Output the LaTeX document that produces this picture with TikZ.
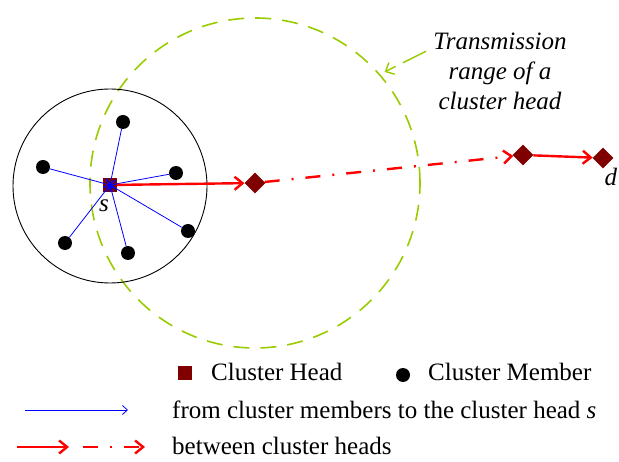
\documentclass[tikz,border=0pt]{standalone}
\usepackage{fontspec}
\setmainfont{Liberation Serif}
\usetikzlibrary{arrows.meta,shapes.geometric,positioning}
\definecolor{headred}{RGB}{128,0,0}
\definecolor{rangegreen}{RGB}{153,204,0}
\begin{document}
\begin{tikzpicture}[x=1pt, y=-1pt, font=\fontsize{25}{30}\selectfont]
        \tikzset{
            headsq/.style={
                fill=headred,
                minimum size=14pt,
                inner sep=0pt
            },
            headdia/.style={
                diamond,
                fill=headred,
                minimum size=21pt,
                inner sep=0pt
            },
            member/.style={
                circle,
                fill=black,
                minimum size=14pt,
                inner sep=0pt
            },
            clusterarea/.style={
                circle,
                draw=black,
                line width=0.9pt,
                minimum size=194pt,
                inner sep=0pt
            },
            rangearea/.style={
                circle,
                draw=rangegreen,
                line width=1.6pt,
                dash pattern=on 16pt off 11pt,
                minimum size=330pt,
                inner sep=0pt
            },
            lbl/.style={inner sep=0pt},
            memberarrow/.style={-{Straight Barb[length=5pt,width=9pt]}, line width=0.8pt, draw=blue},
            headarrow/.style={-{Straight Barb[length=8pt,width=13pt]}, line width=2.4pt, draw=red},
            headdash/.style={headarrow, dash pattern=on 15pt off 12pt on 2pt off 12pt},
            rangearrow/.style={-{Straight Barb[length=7pt,width=13pt]}, line width=1.4pt,
                draw=rangegreen, dash pattern=on 26pt off 8pt}
        }

        \useasboundingbox (0,0) rectangle (619,462);

        \node[headdia] (ch1) at (255,183) {};
        \node[headdia] (ch2) at (523,155) {};
        \node[headdia] (dst) at (603,158) {};
        \node[rangearea] (range) at (ch1) {};
        \node[clusterarea] (cluster) at (110,186) {};

        \node[member] (m1) at (123,122) {};
        \node[member] (m2) at (43,167) {};
        \node[member] (m3) at (176,173) {};
        \node[member] (m4) at (65,243) {};
        \node[member] (m5) at (128,253) {};
        \node[member] (m6) at (188,231) {};
        \node[headsq] (src) at (110,185) {};
        \node[lbl] (slbl) at (104,206) {\textit{s}};
        \node[lbl] (dlbl) at (611,177) {\textit{d}};

        \foreach \m in {m1,m2,m3,m4,m5,m6}
            \draw[memberarrow] (\m) -- (src.center);
        \draw[headarrow] (src) -- (ch1);
        \draw[headdash] (ch1) -- (ch2);
        \draw[headarrow] (ch2) -- (dst);

        \node[lbl, inner sep=7pt, align=center, font=\fontsize{25}{30}\selectfont\itshape] (rangetxt)
            at (500,71) {Transmission\\range of a\\cluster head};
        \draw[rangearrow, shorten >=5pt] (rangetxt.165) -- (range.41);

        \node[headsq] (lghead) at (185,373) {};
        \node[lbl, anchor=west] (lgheadtxt) at (211,372) {Cluster Head};
        \node[member] (lgmem) at (403,375) {};
        \node[lbl, anchor=west] (lgmemtxt) at (428,372) {Cluster Member};

        \coordinate (lgblueA) at (25,410);
        \coordinate (lgblueB) at (128,410);
        \draw[memberarrow] (lgblueA) -- (lgblueB);
        \node[lbl, anchor=west] (lgbluetxt) at (172,410)
            {from cluster members to the cluster head \textit{s}};

        \coordinate (lgredA) at (17,447);
        \coordinate (lgredB) at (69,447);
        \coordinate (lgredC) at (83,447);
        \coordinate (lgredD) at (145,447);
        \draw[headarrow] (lgredA) -- (lgredB);
        \draw[headdash] (lgredC) -- (lgredD);
        \node[lbl, anchor=west] (lgredtxt) at (172,446) {between cluster heads};
    \end{tikzpicture}
\end{document}
